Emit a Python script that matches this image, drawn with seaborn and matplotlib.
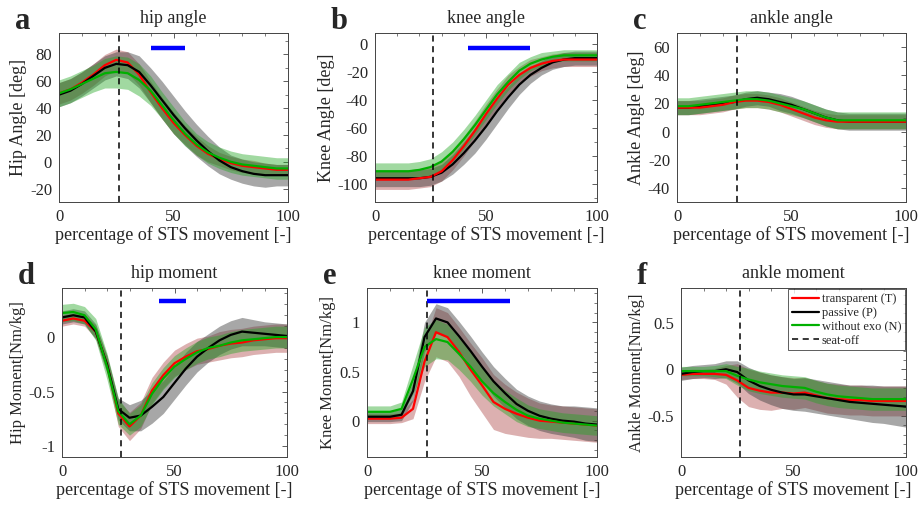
import numpy as np
import pandas as pd
import matplotlib
matplotlib.use("Agg")
import matplotlib.pyplot as plt
from matplotlib.ticker import MultipleLocator
from matplotlib.lines import Line2D
import seaborn as sns

# percentage of STS movement, sampled every 5 %
pct = [0, 5, 10, 15, 20, 25, 30, 35, 40, 45, 50, 55, 60, 65, 70, 75, 80, 85, 90, 95, 100]

# hip angle [deg]
hip_ang_T = [51, 54, 59, 65, 72, 76, 74, 65, 52, 40, 29, 20, 12, 6, 2, -1, -3, -4, -5, -6, -6]
hip_ang_P = [50, 53, 58, 64, 70, 73, 72, 67, 57, 46, 35, 25, 16, 8, 1, -4, -7, -9, -10, -10, -10]
hip_ang_N = [51, 54, 58, 62, 66, 67, 66, 61, 53, 42, 31, 21, 13, 7, 3, 0, -2, -3, -4, -5, -5]
hip_ang_T_sd = [8, 8, 8, 8, 8, 8, 8, 8, 8, 8, 8, 7, 7, 6, 5, 5, 5, 5, 4, 4, 4]
hip_ang_P_sd = [9, 9, 9, 9, 9, 9, 10, 12, 13, 14, 14, 13, 12, 11, 10, 9, 9, 9, 9, 8, 8]
hip_ang_N_sd = [10, 10, 10, 10, 11, 12, 12, 12, 11, 10, 10, 9, 8, 8, 8, 8, 8, 8, 8, 8, 8]

# knee angle [deg]
knee_ang_T = [-97, -97, -97, -97, -96, -95, -91, -83, -73, -62, -50, -39, -29, -22, -17, -14, -12, -11, -11, -11, -11]
knee_ang_P = [-96, -96, -96, -96, -96, -95, -92, -86, -78, -69, -59, -48, -38, -29, -22, -17, -13, -11, -10, -10, -10]
knee_ang_N = [-91, -91, -91, -91, -90, -88, -84, -77, -68, -58, -47, -36, -27, -19, -14, -11, -9, -8, -8, -8, -8]
knee_ang_T_sd = [7, 7, 7, 7, 7, 7, 7, 7, 7, 7, 7, 7, 7, 6, 6, 5, 5, 5, 5, 5, 5]
knee_ang_P_sd = [6, 6, 6, 6, 6, 6, 6, 7, 8, 9, 9, 9, 8, 7, 6, 5, 5, 5, 5, 5, 5]
knee_ang_N_sd = [6, 6, 6, 6, 6, 6, 7, 7, 7, 7, 7, 7, 6, 6, 5, 5, 4, 4, 4, 4, 4]

# ankle angle [deg]
ank_ang_T = [17, 17, 17, 18, 19, 21, 22, 22, 21, 19, 16, 13, 10, 8, 7, 7, 7, 7, 7, 7, 7]
ank_ang_P = [17, 17, 18, 19, 20, 21, 23, 24, 23, 21, 19, 16, 13, 10, 8, 7, 7, 7, 7, 7, 7]
ank_ang_N = [18, 18, 19, 20, 21, 22, 23, 23, 22, 20, 18, 16, 13, 10, 8, 8, 8, 8, 8, 8, 8]
ank_ang_T_sd = [5, 5, 5, 5, 5, 5, 5, 5, 5, 5, 5, 5, 5, 5, 5, 5, 5, 5, 5, 5, 5]
ank_ang_P_sd = [5, 5, 5, 5, 5, 5, 5, 5, 5, 6, 6, 6, 6, 6, 6, 6, 6, 6, 6, 6, 6]
ank_ang_N_sd = [6, 6, 6, 6, 6, 6, 6, 6, 6, 6, 6, 6, 6, 6, 6, 6, 6, 6, 6, 6, 6]

# hip moment [Nm/kg]
hip_mom_T = [0.15, 0.17, 0.15, 0.05, -0.25, -0.70, -0.82, -0.72, -0.49, -0.35, -0.24, -0.18, -0.13, -0.11, -0.08, -0.06, -0.05, -0.03, -0.02, -0.01, -0.01]
hip_mom_P = [0.18, 0.20, 0.18, 0.05, -0.25, -0.66, -0.74, -0.72, -0.64, -0.55, -0.42, -0.29, -0.18, -0.10, -0.03, 0.02, 0.05, 0.04, 0.03, 0.02, 0.01]
hip_mom_N = [0.22, 0.23, 0.20, 0.07, -0.27, -0.68, -0.80, -0.72, -0.52, -0.38, -0.27, -0.20, -0.14, -0.10, -0.08, -0.05, -0.03, -0.02, -0.01, 0.00, 0.00]
hip_mom_T_sd = [0.05, 0.05, 0.05, 0.06, 0.08, 0.12, 0.13, 0.12, 0.12, 0.12, 0.12, 0.12, 0.12, 0.12, 0.13, 0.13, 0.13, 0.13, 0.13, 0.13, 0.13]
hip_mom_P_sd = [0.06, 0.06, 0.06, 0.07, 0.08, 0.10, 0.12, 0.14, 0.15, 0.15, 0.15, 0.15, 0.14, 0.13, 0.13, 0.13, 0.13, 0.12, 0.11, 0.11, 0.11]
hip_mom_N_sd = [0.08, 0.08, 0.08, 0.10, 0.12, 0.12, 0.10, 0.10, 0.10, 0.10, 0.10, 0.10, 0.10, 0.10, 0.10, 0.10, 0.10, 0.10, 0.10, 0.10, 0.10]

# knee moment [Nm/kg]
knee_mom_T = [0.02, 0.02, 0.02, 0.03, 0.12, 0.60, 0.90, 0.85, 0.70, 0.52, 0.36, 0.19, 0.12, 0.07, 0.03, 0.00, -0.01, -0.02, -0.03, -0.04, -0.05]
knee_mom_P = [0.04, 0.04, 0.04, 0.06, 0.30, 0.85, 1.04, 1.00, 0.86, 0.71, 0.55, 0.40, 0.28, 0.17, 0.10, 0.05, 0.02, 0.00, -0.01, -0.03, -0.04]
knee_mom_N = [0.09, 0.09, 0.09, 0.12, 0.42, 0.75, 0.83, 0.80, 0.68, 0.55, 0.40, 0.28, 0.19, 0.11, 0.05, 0.02, 0.00, -0.02, -0.03, -0.04, -0.05]
knee_mom_T_sd = [0.05, 0.05, 0.05, 0.05, 0.10, 0.20, 0.25, 0.25, 0.25, 0.27, 0.28, 0.28, 0.25, 0.22, 0.20, 0.18, 0.17, 0.17, 0.17, 0.17, 0.17]
knee_mom_P_sd = [0.05, 0.05, 0.05, 0.06, 0.10, 0.15, 0.15, 0.15, 0.15, 0.15, 0.15, 0.15, 0.15, 0.15, 0.15, 0.15, 0.15, 0.15, 0.16, 0.17, 0.17]
knee_mom_N_sd = [0.06, 0.06, 0.06, 0.07, 0.15, 0.20, 0.20, 0.18, 0.16, 0.15, 0.14, 0.13, 0.12, 0.12, 0.11, 0.10, 0.10, 0.10, 0.10, 0.10, 0.10]

# ankle moment [Nm/kg]
ank_mom_T = [-0.06, -0.05, -0.05, -0.05, -0.06, -0.12, -0.20, -0.23, -0.25, -0.25, -0.26, -0.25, -0.28, -0.31, -0.32, -0.33, -0.33, -0.34, -0.34, -0.34, -0.34]
ank_mom_P = [-0.05, -0.03, -0.02, -0.02, 0.00, -0.03, -0.12, -0.18, -0.22, -0.25, -0.27, -0.27, -0.29, -0.31, -0.33, -0.35, -0.36, -0.37, -0.38, -0.39, -0.40]
ank_mom_N = [-0.02, -0.02, -0.02, -0.02, -0.02, -0.07, -0.11, -0.14, -0.16, -0.18, -0.19, -0.20, -0.24, -0.27, -0.29, -0.30, -0.31, -0.32, -0.32, -0.32, -0.32]
ank_mom_T_sd = [0.05, 0.05, 0.05, 0.06, 0.10, 0.18, 0.20, 0.20, 0.19, 0.17, 0.17, 0.16, 0.16, 0.16, 0.16, 0.16, 0.16, 0.16, 0.16, 0.16, 0.16]
ank_mom_P_sd = [0.07, 0.07, 0.07, 0.08, 0.09, 0.12, 0.14, 0.15, 0.16, 0.17, 0.17, 0.18, 0.18, 0.18, 0.18, 0.18, 0.19, 0.20, 0.20, 0.21, 0.22]
ank_mom_N_sd = [0.05, 0.05, 0.05, 0.06, 0.08, 0.10, 0.12, 0.12, 0.12, 0.12, 0.12, 0.12, 0.12, 0.12, 0.12, 0.12, 0.12, 0.12, 0.12, 0.12, 0.12]

seat_off = 26

# panel letters, titles, y labels, y limits, y ticks, significance bars (start, end, height)
letters = ['a', 'b', 'c', 'd', 'e', 'f']
titles = ['hip angle', 'knee angle', 'ankle angle', 'hip moment', 'knee moment', 'ankle moment']
ylabels = ['Hip Angle [deg]', 'Knee Angle [deg]', 'Ankle Angle [deg]',
           'Hip Moment[Nm/kg]', 'Knee Moment[Nm/kg]', 'Ankle Moment[Nm/kg]']
ylims = [(-30, 96), (-113, 8), (-50, 70), (-1.1, 0.45), (-0.37, 1.35), (-0.94, 0.87)]
yticks = [[-20, 0, 20, 40, 60, 80], [-100, -80, -60, -40, -20, 0], [-40, -20, 0, 20, 40, 60],
          [-1, -0.5, 0], [0, 0.5, 1], [-0.5, 0, 0.5]]
yminor = [10, 10, 10, 0.1, 0.1, 0.1]
sig_bars = [(40, 55, 85), (42, 70, -3), None, (43, 55, 0.33), (26, 62, 1.22), None]

panels = [
    (hip_ang_T, hip_ang_P, hip_ang_N, hip_ang_T_sd, hip_ang_P_sd, hip_ang_N_sd),
    (knee_ang_T, knee_ang_P, knee_ang_N, knee_ang_T_sd, knee_ang_P_sd, knee_ang_N_sd),
    (ank_ang_T, ank_ang_P, ank_ang_N, ank_ang_T_sd, ank_ang_P_sd, ank_ang_N_sd),
    (hip_mom_T, hip_mom_P, hip_mom_N, hip_mom_T_sd, hip_mom_P_sd, hip_mom_N_sd),
    (knee_mom_T, knee_mom_P, knee_mom_N, knee_mom_T_sd, knee_mom_P_sd, knee_mom_N_sd),
    (ank_mom_T, ank_mom_P, ank_mom_N, ank_mom_T_sd, ank_mom_P_sd, ank_mom_N_sd),
]

line_cols = ['#ff0000', '#000000', '#00b000']
band_cols = [(0.62, 0.15, 0.15), (0.25, 0.25, 0.25), (0.12, 0.65, 0.12)]
band_alpha = [0.36, 0.46, 0.42]
labels = ['transparent (T)', 'passive (P)', 'without exo (N)']

# axes boxes in pixels: left, top, right, bottom
boxes = [(59, 33, 288, 202), (375, 33, 597, 202), (677, 33, 906, 202),
         (62, 288, 287, 457), (367, 288, 597, 457), (681, 288, 906, 457)]

sns.set_style('white')
plt.rcParams['font.family'] = ['Liberation Serif', 'DejaVu Serif']

W, H = 918, 505
fig = plt.figure(figsize=(W / 100, H / 100), dpi=100)

for i in range(6):
    l, t, r, b = boxes[i]
    ax = fig.add_axes([l / W, 1 - b / H, (r - l) / W, (b - t) / H])
    T, P, N, Tsd, Psd, Nsd = panels[i]
    x = np.array(pct)
    means = [np.array(T), np.array(P), np.array(N)]
    sds = [np.array(Tsd), np.array(Psd), np.array(Nsd)]

    # shaded bands (mean +/- sd)
    for k in range(3):
        ax.fill_between(x, means[k] - sds[k], means[k] + sds[k], color=band_cols[k],
                        alpha=band_alpha[k], linewidth=0)

    # mean lines
    for k in [1, 0, 2] if i in (1, 2) else [0, 1, 2]:
        sns.lineplot(x=x, y=means[k], color=line_cols[k], linewidth=1.6, ax=ax)

    ax.axvline(seat_off, color='black', linestyle=(0, (4, 3)), linewidth=1.1)

    if sig_bars[i] is not None:
        x0, x1, yb = sig_bars[i]
        ax.plot([x0, x1], [yb, yb], color='#0000ff', linewidth=3.2, solid_capstyle='butt')

    ax.set_xlim(0, 100)
    ax.set_ylim(*ylims[i])
    ax.set_xticks([0, 50, 100])
    ax.set_yticks(yticks[i])
    ax.set_yticklabels([('%g' % t) for t in yticks[i]])
    ax.xaxis.set_minor_locator(MultipleLocator(10))
    ax.yaxis.set_minor_locator(MultipleLocator(yminor[i]))
    ax.tick_params(which='both', direction='in', top=True, right=True, color='#444444',
                   labelsize=12, pad=5)
    ax.tick_params(which='major', length=3.5, width=0.6)
    ax.tick_params(which='minor', length=2, width=0.5)
    for sp in ax.spines.values():
        sp.set_color('#444444')
        sp.set_linewidth(0.7)

    ax.set_xlabel('percentage of STS movement [-]', fontsize=13, labelpad=1)
    ax.set_ylabel(ylabels[i], fontsize=13 if i < 3 else 12, labelpad=2)
    ax.set_title(titles[i], fontsize=13, pad=7)
    fig.text((l - 44) / W, 1 - (t - 4) / H, letters[i], fontsize=22,
             fontweight='bold', va='baseline', ha='left')

    if i == 5:
        handles = [Line2D([0], [0], color=c, linewidth=1.6) for c in line_cols]
        handles.append(Line2D([0], [0], color='black', linestyle=(0, (4, 3)), linewidth=1.1))
        leg = ax.legend(handles, labels + ['seat-off'], loc='upper right', fontsize=9,
                        frameon=True, fancybox=False, handlelength=2.2, handletextpad=0.2,
                        borderpad=0.3, labelspacing=0.15, borderaxespad=0.1)
        leg.get_frame().set_edgecolor('#333333')
        leg.get_frame().set_linewidth(0.7)

plt.savefig('out.png', dpi=100)
